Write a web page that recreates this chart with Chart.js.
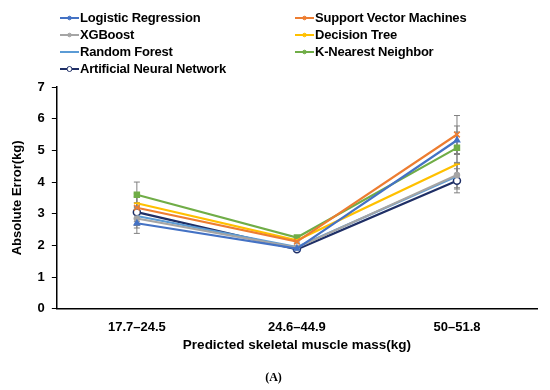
<!DOCTYPE html>
<html>
<head>
<meta charset="utf-8">
<script src="https://cdn.jsdelivr.net/npm/chart.js@4.4.1/dist/chart.umd.min.js"></script>
<style>
  html, body { margin:0; padding:0; background:#fff; }
  #wrap { position:relative; width:550px; height:390px; }
  #legend { position:absolute; left:60px; top:9px; width:480px; font-family:"Liberation Sans", Arial, sans-serif; font-weight:bold; font-size:13px; color:#000; }
  .item { position:absolute; height:17px; line-height:17px; white-space:nowrap; letter-spacing:-0.2px; }
  .item canvas { vertical-align:middle; margin-right:1px; position:relative; top:-1px; }
</style>
</head>
<body>
<div id="wrap">
  <canvas id="c" width="550" height="390"></canvas>
  <div id="legend"></div>
</div>
<script>
const categories = ["17.7\u201324.5", "24.6\u201344.9", "50\u201351.8"];
const seriesNames = ["Logistic Regression", "Support Vector Machines", "XGBoost", "Decision Tree", "Random Forest", "K-Nearest Neighbor", "Artificial Neural Network"];
const logisticRegression = [2.70, 1.90, 5.32];
const supportVectorMachines = [3.19, 2.12, 5.50];
const xgboost = [2.85, 1.93, 4.22];
const decisionTree = [3.33, 2.16, 4.56];
const randomForest = [2.93, 1.95, 4.18];
const kNearestNeighbor = [3.60, 2.25, 5.08];
const artificialNeuralNetwork = [3.05, 1.88, 4.04];
const errLR = [0.32, 0.05, 0.45];
const errSVM = [0.35, 0.05, 0.60];
const errXGB = [0.30, 0.05, 0.40];
const errDT = [0.30, 0.05, 0.45];
const errRF = [0.30, 0.05, 0.40];
const errKNN = [0.40, 0.06, 0.50];
const errANN = [0.30, 0.05, 0.38];
const yTicks = [0, 1, 2, 3, 4, 5, 6, 7];

const colors = ["#4472C4", "#ED7D31", "#A5A5A5", "#FFC000", "#5B9BD5", "#70AD47", "#1F2F66"];
const pointStyles = ["triangle", "crossRot", "circle", "line", "circle", "rect", "circle"];
const pointRadii = [3, 4, 2.5, 3, 0, 3.5, 3.5];
const values = [logisticRegression, supportVectorMachines, xgboost, decisionTree, randomForest, kNearestNeighbor, artificialNeuralNetwork];
const errors = [errLR, errSVM, errXGB, errDT, errRF, errKNN, errANN];

const datasets = seriesNames.map((n, i) => ({
  label: n,
  data: values[i],
  errors: errors[i],
  borderColor: colors[i],
  backgroundColor: i === 6 ? "#ffffff" : colors[i],
  pointBorderColor: colors[i],
  pointBackgroundColor: i === 6 ? "#ffffff" : colors[i],
  pointStyle: pointStyles[i],
  pointRadius: pointRadii[i],
  pointBorderWidth: 1.5,
  borderWidth: 2.2,
  tension: 0,
  fill: false
}));

const errorBars = {
  id: "errorBars",
  beforeDatasetsDraw(chart) {
    const ctx = chart.ctx;
    const ys = chart.scales.y;
    ctx.save();
    ctx.strokeStyle = "#808080";
    ctx.lineWidth = 1;
    chart.data.datasets.forEach((ds, di) => {
      const meta = chart.getDatasetMeta(di);
      meta.data.forEach((pt, j) => {
        const v = ds.data[j], e = ds.errors[j];
        const x = pt.x;
        const y1 = ys.getPixelForValue(v + e), y2 = ys.getPixelForValue(v - e);
        ctx.beginPath();
        ctx.moveTo(x, y1); ctx.lineTo(x, y2);
        ctx.moveTo(x - 3, y1); ctx.lineTo(x + 3, y1);
        ctx.moveTo(x - 3, y2); ctx.lineTo(x + 3, y2);
        ctx.stroke();
      });
    });
    ctx.restore();
  }
};

const chart = new Chart(document.getElementById("c"), {
  type: "line",
  data: { labels: categories, datasets },
  plugins: [errorBars],
  options: {
    responsive: false,
    animation: false,
    layout: { padding: { top: 87, right: 13, left: 10, bottom: 5 } },
    plugins: {
      legend: { display: false },
      tooltip: { enabled: false },
      title: {
        display: true, position: "bottom", text: "(A)",
        color: "#000", font: { family: "Liberation Serif", weight: "bold", size: 12 },
        padding: { top: 17, bottom: 0 }
      }
    },
    scales: {
      x: {
        offset: true,
        grid: { drawOnChartArea: false, drawTicks: false },
        border: { display: true, color: "#000", width: 1.5 },
        ticks: { color: "#000", font: { family: "Liberation Sans", weight: "bold", size: 13 }, padding: 11 },
        title: { display: true, text: "Predicted skeletal muscle mass(kg)", color: "#000", font: { family: "Liberation Sans", weight: "bold", size: 13.5 }, padding: { top: -9, bottom: 0 } }
      },
      y: {
        min: 0, max: 7,
        afterBuildTicks(scale) { scale.ticks = yTicks.map(v => ({ value: v })); },
        grid: { drawOnChartArea: false, drawTicks: true, tickLength: 5, color: "#000" },
        border: { display: true, color: "#000", width: 1.5 },
        ticks: { color: "#000", font: { family: "Liberation Sans", weight: "bold", size: 13 }, padding: 7 },
        title: { display: true, text: "Absolute Error(kg)", color: "#000", font: { family: "Liberation Sans", weight: "bold", size: 13 }, padding: { top: 0, bottom: 5 } }
      }
    }
  }
});

// HTML legend, two columns
const legend = document.getElementById("legend");
const order = [[0, 0, 0], [1, 235, 0], [2, 0, 1], [3, 235, 1], [4, 0, 2], [5, 235, 2], [6, 0, 3]];
order.forEach(([i, left, row]) => {
  const div = document.createElement("div");
  div.className = "item";
  div.style.left = left + "px";
  div.style.top = (row * 17) + "px";
  const cv = document.createElement("canvas");
  cv.width = 19; cv.height = 10;
  const g = cv.getContext("2d");
  g.strokeStyle = colors[i]; g.lineWidth = 2;
  g.beginPath(); g.moveTo(0, 5); g.lineTo(19, 5); g.stroke();
  g.fillStyle = i === 6 ? "#fff" : colors[i];
  g.lineWidth = 1;
  if (pointRadii[i] > 0) {
    g.beginPath(); g.arc(9.5, 5, i === 6 ? 2.5 : 1.8, 0, Math.PI * 2); g.fill(); g.stroke();
  }
  div.appendChild(cv);
  div.appendChild(document.createTextNode(seriesNames[i]));
  legend.appendChild(div);
});
</script>
</body>
</html>
